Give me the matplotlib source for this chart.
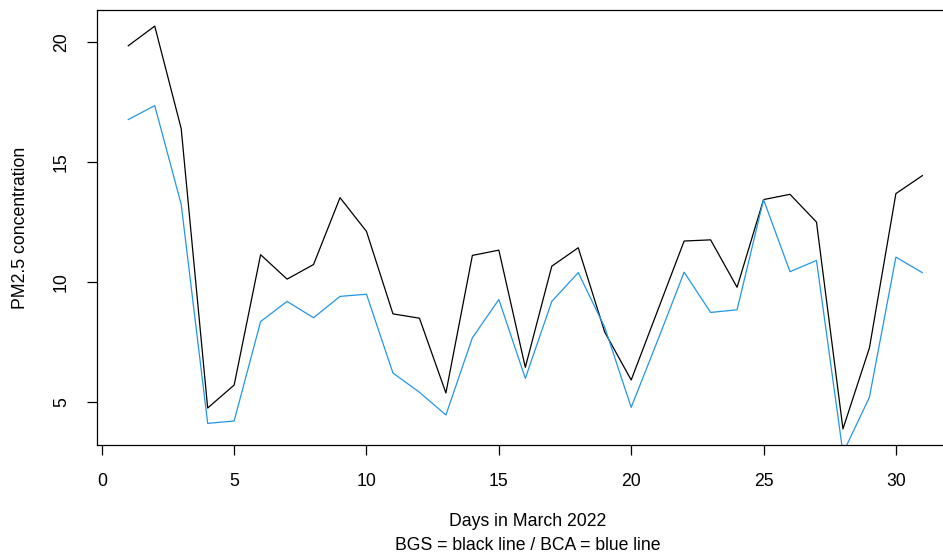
import matplotlib
matplotlib.use("Agg")
import matplotlib.pyplot as plt

days = list(range(1, 32))
bgs = [19.85, 20.67, 16.39, 4.73, 5.69, 11.13, 10.11, 10.72, 13.51, 12.10,
       8.66, 8.48, 5.36, 11.10, 11.32, 6.43, 10.65, 11.42, 7.90, 5.90,
       8.80, 11.70, 11.75, 9.77, 13.43, 13.65, 12.49, 3.86, 7.24, 13.68, 14.43]
bca = [16.77, 17.35, 13.23, 4.09, 4.19, 8.34, 9.18, 8.50, 9.39, 9.48,
       6.19, 5.39, 4.44, 7.66, 9.26, 5.97, 9.18, 10.38, 8.10, 4.76,
       7.55, 10.40, 8.72, 8.83, 13.43, 10.42, 10.89, 2.85, 5.18, 11.03, 10.38]
xticks = [0, 5, 10, 15, 20, 25, 30]
yticks = [5, 10, 15, 20]

plt.rcParams['font.family'] = ['Liberation Sans', 'DejaVu Sans']
fs = 12.7

W, H = 943, 555
fig = plt.figure(figsize=(W / 100, H / 100), dpi=100)
left, right, top, bottom = 96.5, 943, 10, 445
ax = fig.add_axes([left / W, 1 - bottom / H, (right - left) / W, (bottom - top) / H])

ax.plot(days, bgs, color='black', lw=0.9)
ax.plot(days, bca, color='#2297E6', lw=0.9)

ymin = min(bgs); ymax = max(bgs); r = ymax - ymin
ax.set_ylim(ymin - 0.04 * r, ymax + 0.04 * r)
px_per_day = 26.47
x0 = -0.2
ax.set_xlim(x0, x0 + (right - left) / px_per_day)

ax.spines['right'].set_visible(False)
for s in ['left', 'top', 'bottom']:
    ax.spines[s].set_linewidth(0.9)

ax.set_xticks(xticks)
ax.set_xticklabels([str(t) for t in xticks], fontsize=fs)
ax.set_yticks(yticks)
ax.set_yticklabels([str(t) for t in yticks], fontsize=fs, rotation=90, va='center')
ax.tick_params(axis='x', length=7, width=0.9, pad=13)
ax.tick_params(axis='y', length=7, width=0.9, pad=12)

cx = (left + (left + 32.6 * px_per_day)) / 2 / W
fig.text(cx, 1 - 522 / H, "Days in March 2022", ha='center', va='center', fontsize=fs)
fig.text(cx, 1 - 545 / H, "BGS = black line / BCA = blue line", ha='center', va='center', fontsize=fs)
fig.text(21 / W, 1 - 227.5 / H, "PM2.5 concentration", ha='center', va='center',
         rotation=90, fontsize=fs)

fig.savefig("out.png", dpi=100)
